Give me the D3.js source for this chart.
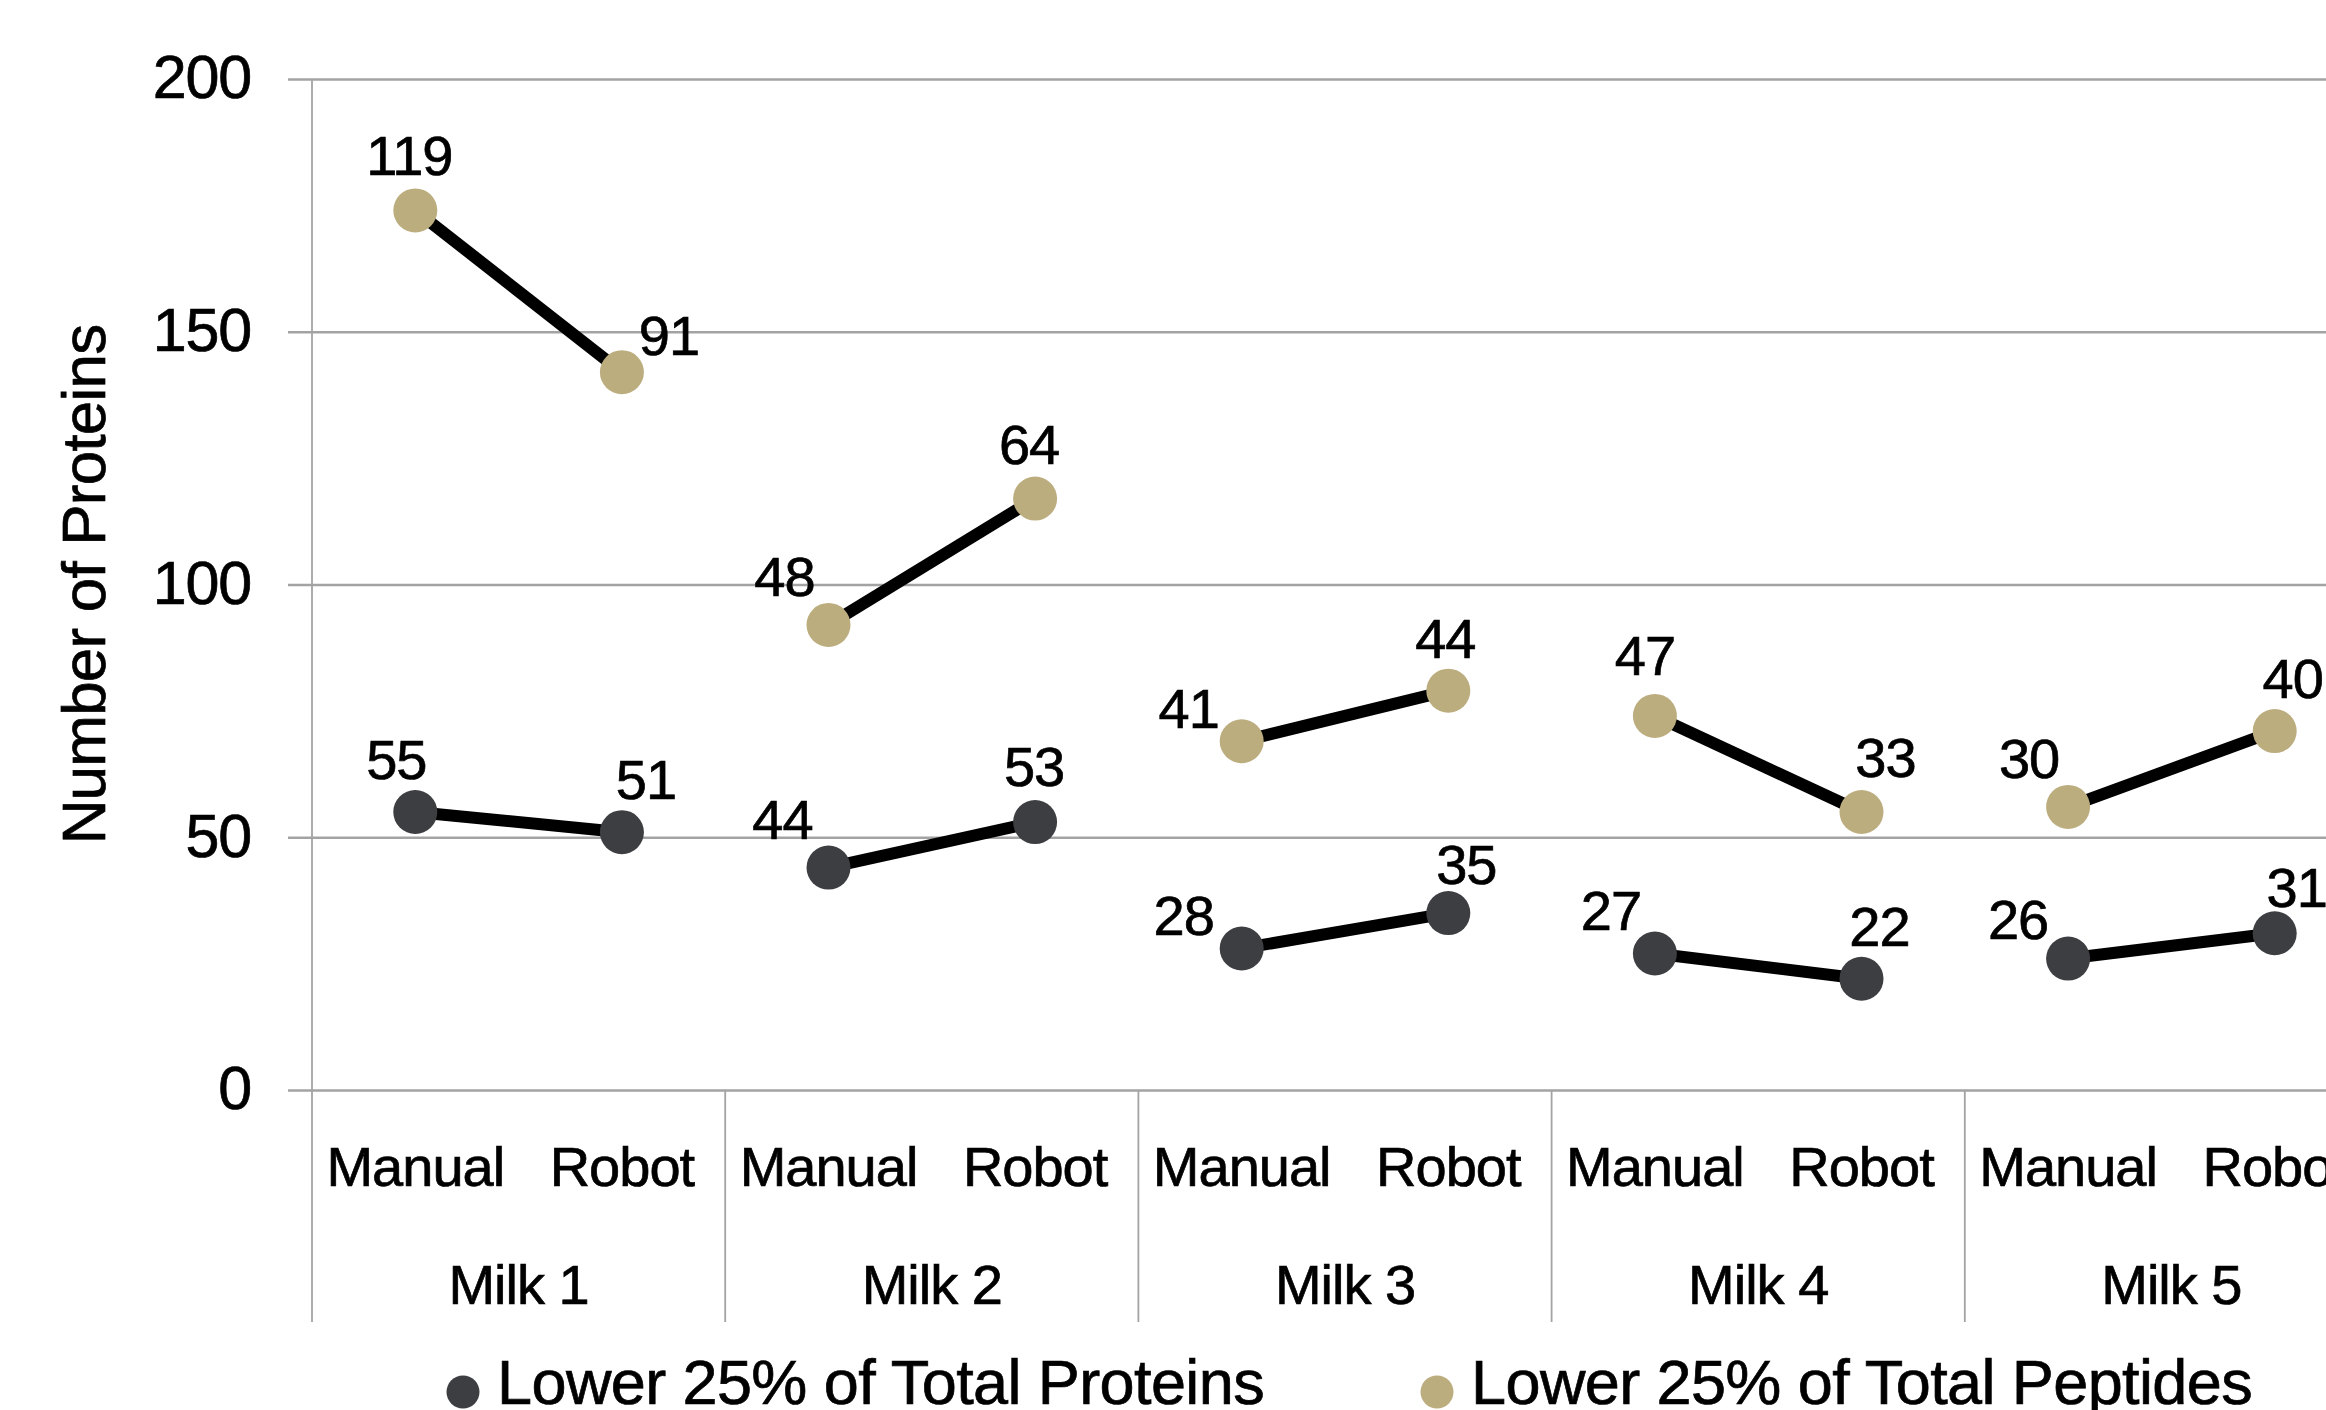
<!DOCTYPE html>
<html>
<head>
<meta charset="utf-8">
<script src="https://cdn.jsdelivr.net/npm/d3@7/dist/d3.min.js"></script>
<style>
  html, body { margin: 0; padding: 0; background: #ffffff; }
  svg { display: block; font-family: "Liberation Sans", Arial, Helvetica, sans-serif; }
  svg text { stroke: #000; stroke-width: 0.7px; }
</style>
</head>
<body>
<script>
// Sample groups and preparation methods
const milks = ["Milk 1", "Milk 2", "Milk 3", "Milk 4", "Milk 5"];
const methods = ["Manual", "Robot"];

// Series values, in category order (Milk 1 Manual, Milk 1 Robot, Milk 2 Manual, ...)
const proteins = [55, 51, 44, 53, 28, 35, 27, 22, 26, 31];
const peptides = [119, 91, 48, 64, 41, 44, 47, 33, 30, 40];

const seriesNames = ["Lower 25% of Total Proteins", "Lower 25% of Total Peptides"];
const yTicks = [0, 50, 100, 150, 200];
const yTitle = "Number of Proteins";

// Data-label placement relative to each marker (px)
const proteinLabelOffset = [[-19,-53],[24,-53],[-46,-49],[-1,-56],[-58,-33],[18,-49],[-44,-44],[18,-53],[-50,-40],[22,-46]];
const peptideLabelOffset = [[-6,-55],[47,-37],[-44,-49],[-6,-55],[-53,-33],[-3,-53],[-10,-61],[24,-55],[-39,-49],[18,-53]];

const W = 2326, H = 1410;
const colors = { proteins: "#3d3e42", peptides: "#bcad7f" };
const gridColor = "#a3a3a3";

const svg = d3.select("body").append("svg")
  .attr("width", W).attr("height", H)
  .attr("viewBox", `0 0 ${W} ${H}`);

const rows = milks.flatMap((m, i) => methods.map((me, j) => ({
  milk: m, method: me, key: m + "|" + me,
  proteins: proteins[i * 2 + j], peptides: peptides[i * 2 + j]
})));

// Peptide counts are stacked on top of protein counts
const stacked = d3.stack().keys(["proteins", "peptides"])(rows);

const plotLeft = 312, bandW = 206.6;
const plotRight = plotLeft + bandW * rows.length;
const x = d3.scaleBand().domain(rows.map(r => r.key)).range([plotLeft, plotRight]).padding(0);
const y = d3.scaleLinear().domain([0, 200]).range([1090, 79]);
const cx = k => x(k) + x.bandwidth() / 2;

// Horizontal gridlines and value axis
const yAxis = d3.axisLeft(y).tickValues(yTicks).tickSize(-(plotRight - plotLeft)).tickFormat(d3.format("d"));
const gy = svg.append("g").attr("transform", `translate(${plotLeft},0)`).call(yAxis);
gy.select(".domain").remove();
gy.selectAll(".tick line")
  .attr("x1", -24)
  .attr("stroke", gridColor).attr("stroke-width", 2.5);
gy.selectAll(".tick text")
  .attr("x", -61).attr("dy", "0.31em")
  .attr("fill", "#000").attr("font-size", 61)
  .attr("letter-spacing", -1.2)
  .style("font-family", "'Liberation Sans', Arial, sans-serif");

// Vertical axis line
svg.append("line")
  .attr("x1", plotLeft).attr("x2", plotLeft)
  .attr("y1", y(200)).attr("y2", y(0))
  .attr("stroke", gridColor).attr("stroke-width", 1.8);

// Group dividers under the category axis
const boundaries = milks.map((m, i) => x(rows[i * 2].key)).concat([plotRight]);
svg.append("g").selectAll("line").data(boundaries).join("line")
  .attr("x1", d => d).attr("x2", d => d)
  .attr("y1", y(0)).attr("y2", 1322)
  .attr("stroke", gridColor).attr("stroke-width", 1.8);

// Category labels
svg.append("g").selectAll("text").data(rows).join("text")
  .attr("x", d => cx(d.key)).attr("y", 1186)
  .attr("text-anchor", "middle").attr("font-size", 56)
  .attr("letter-spacing", -1).attr("fill", "#000")
  .text(d => d.method);

svg.append("g").selectAll("text").data(milks).join("text")
  .attr("x", (d, i) => x(rows[i * 2].key) + x.bandwidth())
  .attr("y", 1304)
  .attr("text-anchor", "middle").attr("font-size", 56)
  .attr("letter-spacing", -1).attr("fill", "#000")
  .text(d => d);

// Axis title
svg.append("text")
  .attr("transform", `translate(105,${(y(0) + y(200)) / 2}) rotate(-90)`)
  .attr("text-anchor", "middle").attr("font-size", 62)
  .attr("letter-spacing", -0.8).attr("fill", "#000")
  .text(yTitle);

// Lines: each milk sample joins its Manual and Robot points
const line = d3.line().x(d => cx(d.data.key)).y(d => y(d[1]));
const seriesKeys = ["proteins", "peptides"];
stacked.forEach(s => {
  const g = svg.append("g");
  milks.forEach((m, i) => {
    g.append("path")
      .datum(s.slice(i * 2, i * 2 + 2))
      .attr("d", line)
      .attr("fill", "none").attr("stroke", "#000")
      .attr("stroke-width", 12).attr("stroke-linecap", "butt");
  });
});

// Markers
stacked.forEach(s => {
  svg.append("g").selectAll("circle").data(s).join("circle")
    .attr("cx", d => cx(d.data.key)).attr("cy", d => y(d[1]))
    .attr("r", 22).attr("fill", colors[s.key]);
});

// Data labels
const offsets = { proteins: proteinLabelOffset, peptides: peptideLabelOffset };
stacked.forEach(s => {
  svg.append("g").selectAll("text").data(s).join("text")
    .attr("x", (d, i) => cx(d.data.key) + offsets[s.key][i][0])
    .attr("y", (d, i) => y(d[1]) + offsets[s.key][i][1] + 20)
    .attr("text-anchor", "middle").attr("font-size", 56)
    .attr("letter-spacing", -1).attr("fill", "#000")
    .text(d => d.data[s.key]);
});

// Legend
const legendX = [463, 1437];
const lg = svg.append("g").selectAll("g").data(seriesKeys).join("g")
  .attr("transform", (d, i) => `translate(${legendX[i]},1392)`);
lg.append("circle").attr("r", 16.5).attr("fill", d => colors[d]);
lg.append("text")
  .attr("x", 34).attr("y", 12)
  .attr("font-size", 63).attr("letter-spacing", -0.6).attr("fill", "#000")
  .text((d, i) => seriesNames[i]);
</script>
</body>
</html>
